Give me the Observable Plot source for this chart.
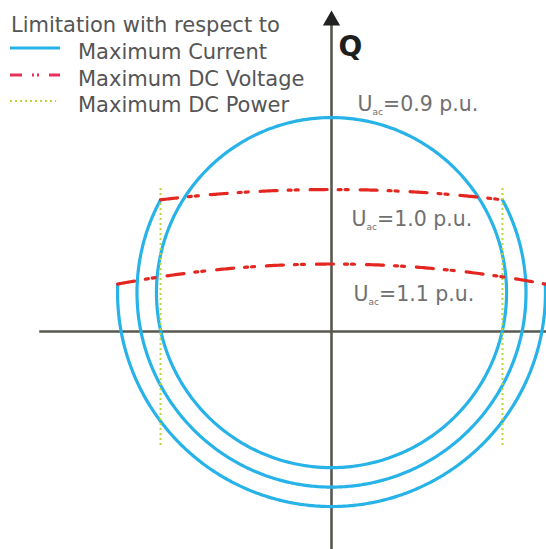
<!DOCTYPE html>
<html>
<head>
<meta charset="utf-8">
<script src="https://cdn.jsdelivr.net/npm/d3@7"></script>
<script src="https://cdn.jsdelivr.net/npm/@observablehq/plot@0.6"></script>
<style>
  html, body { margin: 0; padding: 0; background: #fff; overflow: hidden; }
  #wrap { position: relative; width: 546px; height: 549px; }
  #legend { position: absolute; left: 0; top: 0; }
</style>
</head>
<body>
<div id="wrap"><div id="chart"></div><svg id="legend" width="330" height="120"></svg></div>
<script>
// ---- data (p.u.) ----
const acVoltages = [0.9, 1.0, 1.1];               // U_ac of each current-limit circle (radius, p.u.)
const currentCircleCenterQ = 0.2;                 // Q of the circles' centre
const dcVoltageTopQ = [null, 0.73, 0.347];        // DC-voltage limit arc, Q at P = 0
const dcVoltageRadius = [null, 7.3, 5.9];         // DC-voltage limit arc radius
const dcPowerLimitP = [-0.879, 0.879];            // DC power limit, P
const dcPowerQRange = [-0.586, 0.74];             // extent of drawn DC power lines
const voltageLabels = ["0.9", "1.0", "1.1"];
const legendTitle = "Limitation with respect to";
const legendItems = ["Maximum Current", "Maximum DC Voltage", "Maximum DC Power"];
const axisLabel = "Q";

// ---- styles ----
const BLUE = "#27b3e8", RED = "#e3261f", GREEN = "#bcd536", AXIS = "#58584f", LABEL = "#707070";
const RED_DASH = "17,11,3,4,3,12";
const k = 194.5;           // px per p.u.
const ox = 331, oy = 331;  // pixel position of origin

// ---- geometry ----
function redQ(i, P) { const R = dcVoltageRadius[i]; return dcVoltageTopQ[i] - R + Math.sqrt(R * R - P * P); }
function circUpper(U, P) { return currentCircleCenterQ + Math.sqrt(Math.max(0, U * U - P * P)); }
function intersectP(i) {
  const U = acVoltages[i];
  let lo = 0, hi = U;
  for (let n = 0; n < 60; n++) {
    const m = (lo + hi) / 2;
    if (circUpper(U, m) > redQ(i, m)) lo = m; else hi = m;
  }
  return (lo + hi) / 2;
}
const blue = [], red = [];
acVoltages.forEach((U, i) => {
  let a1, a2;
  if (dcVoltageTopQ[i] == null) { a1 = 0; a2 = 2 * Math.PI; }
  else {
    const Pi = intersectP(i);
    const a0 = Math.atan2(circUpper(U, Pi) - currentCircleCenterQ, Pi);
    a1 = Math.PI - a0; a2 = 2 * Math.PI + a0;
    const N = 200;
    for (let j = 0; j <= N; j++) {
      const P = -Pi + (2 * Pi * j) / N;
      red.push({U, P, Q: redQ(i, P)});
    }
  }
  const N = 400;
  for (let j = 0; j <= N; j++) {
    const a = a1 + (a2 - a1) * j / N;
    blue.push({U, P: U * Math.cos(a), Q: currentCircleCenterQ + U * Math.sin(a)});
  }
});

// label anchors (pixel: start x, baseline y)
const labelPx = [[357, 110], [351, 225], [353, 300]];
const FS = 20.5;
const labels = voltageLabels.map((v, i) => ({
  text: "U_ac=" + v + " p.u.",
  P: (labelPx[i][0] - ox) / k,
  Q: (oy - (labelPx[i][1] - 0.32 * FS)) / k
}));

const chart = Plot.plot({
  width: 546, height: 549,
  marginTop: 0, marginRight: 0, marginBottom: 0, marginLeft: 0,
  x: {domain: [-ox / k, (546 - ox) / k], axis: null},
  y: {domain: [-(549 - oy) / k, oy / k], axis: null},
  style: {fontFamily: "DejaVu Sans", background: "white"},
  marks: [
    Plot.ruleY([0], {x1: -1.5, x2: 1.2, stroke: AXIS, strokeWidth: 2.6}),
    Plot.ruleX([0], {y1: -1.2, y2: 1.6, stroke: AXIS, strokeWidth: 2.6}),
    Plot.dot([{P: 0, Q: (oy - 10) / k}], {x: "P", y: "Q", symbol: "triangle", r: 6.4, fill: "#222", stroke: "none", dy: 10}),
    Plot.line(blue, {x: "P", y: "Q", z: "U", stroke: BLUE, strokeWidth: 3.2}),
    Plot.ruleX(dcPowerLimitP, {y1: dcPowerQRange[0], y2: dcPowerQRange[1], stroke: GREEN, strokeWidth: 2, strokeDasharray: "2,3"}),
    Plot.line(red, {x: "P", y: "Q", z: "U", stroke: RED, strokeWidth: 3.2, strokeDasharray: RED_DASH}),
    Plot.text(labels, {x: "P", y: "Q", text: "text", textAnchor: "start", lineAnchor: "middle", fontSize: FS, fill: LABEL}),
    Plot.text([axisLabel], {x: 7 / k, y: (oy - 47) / k, text: d => d, textAnchor: "start", lineAnchor: "middle", fontSize: 28, fontWeight: "bold", fill: "#1e1e1e"})
  ]
});
document.getElementById("chart").appendChild(chart);

// subscripts "ac"
chart.querySelectorAll("text").forEach(t => {
  const s = t.textContent;
  if (s.startsWith("U_ac")) {
    const rest = s.slice(4);
    t.textContent = "";
    const ns = "http://www.w3.org/2000/svg";
    const a = document.createElementNS(ns, "tspan"); a.textContent = "U";
    const b = document.createElementNS(ns, "tspan"); b.textContent = "ac"; b.setAttribute("font-size", "9"); b.setAttribute("dy", "5");
    const c = document.createElementNS(ns, "tspan"); c.textContent = rest; c.setAttribute("dy", "-5");
    t.append(a, b, c);
  }
});

// legend
const lg = d3.select("#legend");
lg.append("text").attr("x", 11).attr("y", 32).text(legendTitle)
  .attr("font-family", "DejaVu Sans").attr("font-size", 21).attr("fill", "#555");
const swatch = [
  {stroke: BLUE, dash: null, w: 3, x2: 60},
  {stroke: "#e8305a", dash: "12,10,2,3,2,10", w: 3, x2: 60},
  {stroke: GREEN, dash: "2,3", w: 2, x2: 56}
];
const rowBase = [59, 86, 112];
legendItems.forEach((name, i) => {
  lg.append("line").attr("x1", 10).attr("x2", swatch[i].x2)
    .attr("y1", rowBase[i] - 11).attr("y2", rowBase[i] - 11)
    .attr("stroke", swatch[i].stroke).attr("stroke-width", swatch[i].w)
    .attr("stroke-dasharray", swatch[i].dash);
  lg.append("text").attr("x", 78).attr("y", rowBase[i]).text(name)
    .attr("font-family", "DejaVu Sans").attr("font-size", 21).attr("fill", "#555");
});
</script>
</body>
</html>
